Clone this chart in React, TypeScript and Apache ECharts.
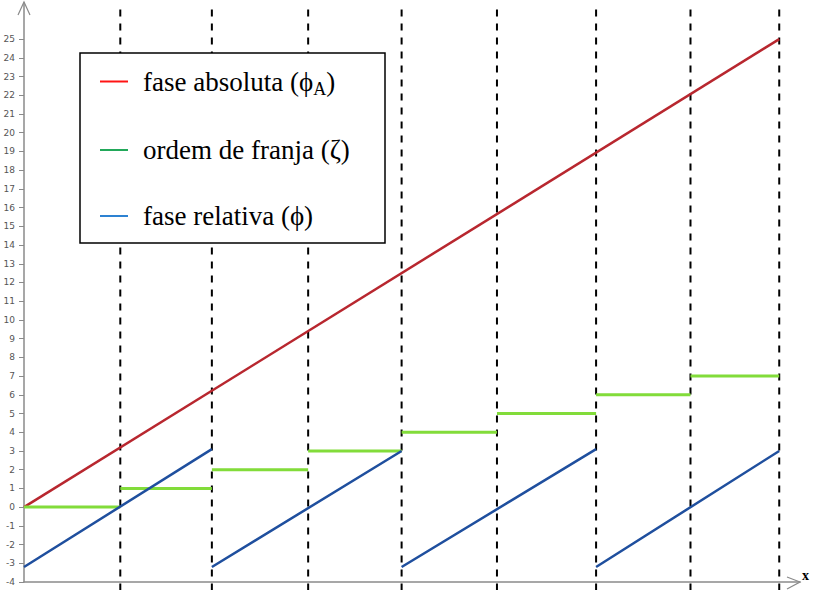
import React, { useEffect, useRef } from "react";
import * as echarts from "echarts";

// interval boundaries (x positions of the dashed lines), x-axis units
const boundaries = [0, 1.02, 1.99, 3.01, 4.0, 5.01, 6.06, 7.06, 8.0];
// fringe order on each interval
const fringeOrder = [0, 1, 2, 3, 4, 5, 6, 7];
// absolute phase (straight line)
const absoluteX = [0, 8.0];
const absoluteY = [0, 25.0];
// relative phase: wraps at these boundary indices
const wrapIndex = [0, 2, 4, 6, 8];
const relativeLow = [-3.2, -3.2, -3.2, -3.2];
const relativeHigh = [3.1, 3.0, 3.1, 3.0];
// y tick labels
const yTicks = [-4, -3, -2, -1, 0, 1, 2, 3, 4, 5, 6, 7, 8, 9, 10, 11, 12, 13, 14, 15, 16, 17, 18, 19, 20, 21, 22, 23, 24, 25];

const NAME_ABS = "fase absoluta (ϕA)";
const NAME_ORD = "ordem de franja (ζ)";
const NAME_REL = "fase relativa (ϕ)";

export default function App() {
  const ref = useRef<HTMLDivElement>(null);
  useEffect(() => {
    if (!ref.current) return;
    const chart = echarts.init(ref.current, null, { renderer: "svg" });

    const absData = absoluteX.map((x, i) => [x, absoluteY[i]]);
    const ordData: any[] = [];
    fringeOrder.forEach((v, i) => {
      if (i > 0) ordData.push([boundaries[i], "-"]);
      ordData.push([boundaries[i], v]);
      ordData.push([boundaries[i + 1], v]);
    });
    const relData: any[] = [];
    for (let s = 0; s < wrapIndex.length - 1; s++) {
      if (s > 0) relData.push([boundaries[wrapIndex[s]], "-"]);
      relData.push([boundaries[wrapIndex[s]], relativeLow[s]]);
      relData.push([boundaries[wrapIndex[s + 1]], relativeHigh[s]]);
    }

    const dashSeries = boundaries.slice(1).map((b) => ({
      type: "line",
      data: [
        [b, -4.45],
        [b, 26.62],
      ],
      clip: false,
      symbol: "none",
      silent: true,
      z: 1,
      lineStyle: { color: "#000", width: 2, type: [7, 7] },
    }));

    const option: any = {
      animation: false,
      grid: { left: 24, right: 18, top: 3, bottom: 8 },
      xAxis: {
        type: "value",
        min: 0,
        max: 8.22,
        axisLine: { show: true, onZero: false, lineStyle: { color: "#8a8a8a", width: 1.5 } },
        axisTick: { show: false },
        axisLabel: { show: false },
        splitLine: { show: false },
      },
      yAxis: {
        type: "value",
        min: -4,
        max: 26.93,
        interval: 1,
        axisLine: { show: true, onZero: false, lineStyle: { color: "#8a8a8a", width: 1.5 } },
        axisTick: { show: true, length: 5, customValues: yTicks, lineStyle: { color: "#8a8a8a" } },
        axisLabel: {
          show: true,
          customValues: yTicks,
          margin: 9,
          fontSize: 9,
          color: "#555",
          fontFamily: "DejaVu Sans",
        },
        splitLine: { show: false },
      },
      legend: {
        orient: "vertical",
        left: 100,
        top: 68,
        padding: 0,
        itemGap: 39,
        itemWidth: 28,
        itemHeight: 2,
        z: 5,
        selectedMode: false,
        data: [
          { name: NAME_ABS, icon: "rect", itemStyle: { color: "#ff1414" } },
          { name: NAME_ORD, icon: "rect", itemStyle: { color: "#22a85a" } },
          { name: NAME_REL, icon: "rect", itemStyle: { color: "#2d82d2" } },
        ],
        formatter: (name: string) =>
          name === NAME_ABS ? "{t|fase absoluta (ϕ}{sub|A}{t|)}" : "{t|" + name + "}",
        textStyle: {
          padding: [0, 0, 0, 10],
          color: "#000",
          fontFamily: "Liberation Serif",
          fontSize: 27,
          rich: {
            t: { fontFamily: "Liberation Serif", fontSize: 27, lineHeight: 32, color: "#000" },
            sub: {
              fontFamily: "Liberation Serif",
              fontSize: 18,
              lineHeight: 32,
              color: "#000",
              verticalAlign: "bottom",
              padding: [8, 0, 0, 0],
            },
          },
        },
      },
      graphic: [
        {
          type: "rect",
          z: 3,
          shape: { x: 80, y: 53, width: 305, height: 190 },
          style: { fill: "#fff", stroke: "#000", lineWidth: 1.5 },
        },
        {
          type: "polyline",
          z: 3,
          shape: { points: [[18, 15], [24, 2], [30, 15]] },
          style: { stroke: "#8a8a8a", lineWidth: 1.2, fill: null },
        },
        {
          type: "polyline",
          z: 3,
          shape: { points: [[787, 577], [800, 582], [787, 589]] },
          style: { stroke: "#8a8a8a", lineWidth: 1.2, fill: null },
        },
        {
          type: "text",
          z: 3,
          x: 802,
          y: 568,
          style: { text: "x", fontFamily: "Liberation Serif", fontWeight: "bold", fontSize: 14, fill: "#000" },
        },
      ],
      series: [
        ...dashSeries,
        {
          name: NAME_ABS,
          type: "line",
          data: absData,
          symbol: "none",
          z: 2,
          lineStyle: { color: "#b8272f", width: 2.5 },
          itemStyle: { color: "#b8272f" },
        },
        {
          name: NAME_ORD,
          type: "line",
          data: ordData,
          symbol: "none",
          connectNulls: false,
          z: 2,
          lineStyle: { color: "#82dc3a", width: 3 },
          itemStyle: { color: "#82dc3a" },
        },
        {
          name: NAME_REL,
          type: "line",
          data: relData,
          symbol: "none",
          connectNulls: false,
          z: 2,
          lineStyle: { color: "#1f4f9e", width: 2.5 },
          itemStyle: { color: "#1f4f9e" },
        },
      ],
    };
    chart.setOption(option);
    return () => chart.dispose();
  }, []);
  return (
    <div
      ref={ref}
      style={{ position: "absolute", left: 0, top: 0, width: 818, height: 590, background: "#fff" }}
    />
  );
}
